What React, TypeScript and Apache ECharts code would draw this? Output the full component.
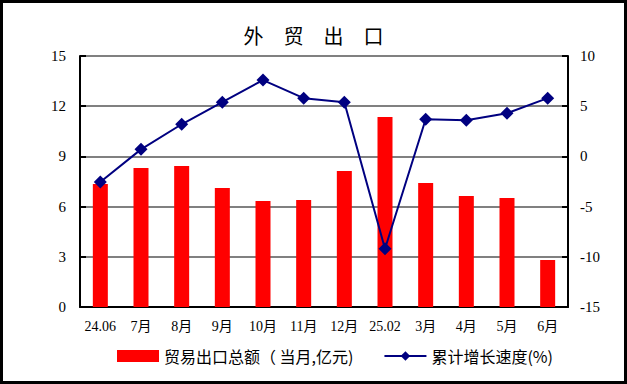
import React, { useEffect, useRef } from "react";
import * as echarts from "echarts";

const categories = ["24.06", "7月", "8月", "9月", "10月", "11月", "12月", "25.02", "3月", "4月", "5月", "6月"];
const exportValues = [7.35, 8.31, 8.43, 7.11, 6.34, 6.4, 8.13, 11.36, 7.41, 6.63, 6.52, 2.81];
const growthValues = [-2.55, 0.7, 3.2, 5.4, 7.6, 5.8, 5.4, -9.2, 3.7, 3.6, 4.3, 5.8];
const barName = "贸易出口总额（ 当月,亿元)";
const lineName = "累计增长速度(%)";

const serif = "'Liberation Serif', 'Times New Roman', 'Noto Sans CJK SC', serif";
const cjk = "'Noto Sans CJK SC', sans-serif";

export default function App() {
  const ref = useRef<HTMLDivElement>(null);
  useEffect(() => {
    document.body.style.margin = "0";
    const chart = echarts.init(ref.current!, null, { renderer: "svg" });
    chart.setOption({
      animation: false,
      backgroundColor: "#fff",
      title: {
        text: "外　贸　出　口",
        left: "center",
        top: 20,
        textStyle: { fontFamily: cjk, fontSize: 20, fontWeight: "normal", color: "#000" },
      },
      graphic: [
        {
          type: "rect",
          shape: { x: 1.5, y: 1.5, width: 624, height: 381 },
          style: { fill: "none", stroke: "#000", lineWidth: 3 },
          silent: true,
        },
      ],
      legend: {
        bottom: 15,
        left: 112,
        itemGap: 30,
        itemWidth: 42,
        itemHeight: 12,
        textStyle: { fontFamily: cjk, fontSize: 16, color: "#000" },
        data: [
          { name: barName, icon: "rect" },
          { name: lineName },
        ],
      },
      grid: { left: 80, right: 59, top: 56, bottom: 77 },
      xAxis: {
        type: "category",
        data: categories,
        boundaryGap: true,
        axisLine: { lineStyle: { color: "#000", width: 2 } },
        axisTick: { inside: true, length: 6, interval: 0, lineStyle: { color: "#000", width: 2 } },
        axisLabel: { fontFamily: serif, fontSize: 14, color: "#000", margin: 12, interval: 0 },
      },
      yAxis: [
        {
          type: "value",
          min: 0,
          max: 15,
          interval: 3,
          axisLine: { show: true, lineStyle: { color: "#000", width: 2 } },
          axisTick: { show: true, inside: true, length: 6, lineStyle: { color: "#000", width: 2 } },
          axisLabel: { fontFamily: serif, fontSize: 15, color: "#000", margin: 14 },
          splitLine: { show: true, lineStyle: { color: "#808080", width: 2 } },
        },
        {
          type: "value",
          min: -15,
          max: 10,
          interval: 5,
          axisLine: { show: true, lineStyle: { color: "#000", width: 2 } },
          axisTick: { show: true, inside: true, length: 6, lineStyle: { color: "#000", width: 2 } },
          axisLabel: { fontFamily: serif, fontSize: 15, color: "#000", margin: 12 },
          splitLine: { show: false },
        },
      ],
      series: [
        {
          name: barName,
          type: "bar",
          data: exportValues,
          barWidth: 15,
          itemStyle: { color: "#ff0000" },
        },
        {
          name: lineName,
          type: "line",
          yAxisIndex: 1,
          data: growthValues,
          symbol: "diamond",
          symbolSize: 13,
          lineStyle: { color: "#000080", width: 2 },
          itemStyle: { color: "#000080" },
        },
      ],
    });
    return () => chart.dispose();
  }, []);
  return <div ref={ref} style={{ width: 627, height: 384 }} />;
}
